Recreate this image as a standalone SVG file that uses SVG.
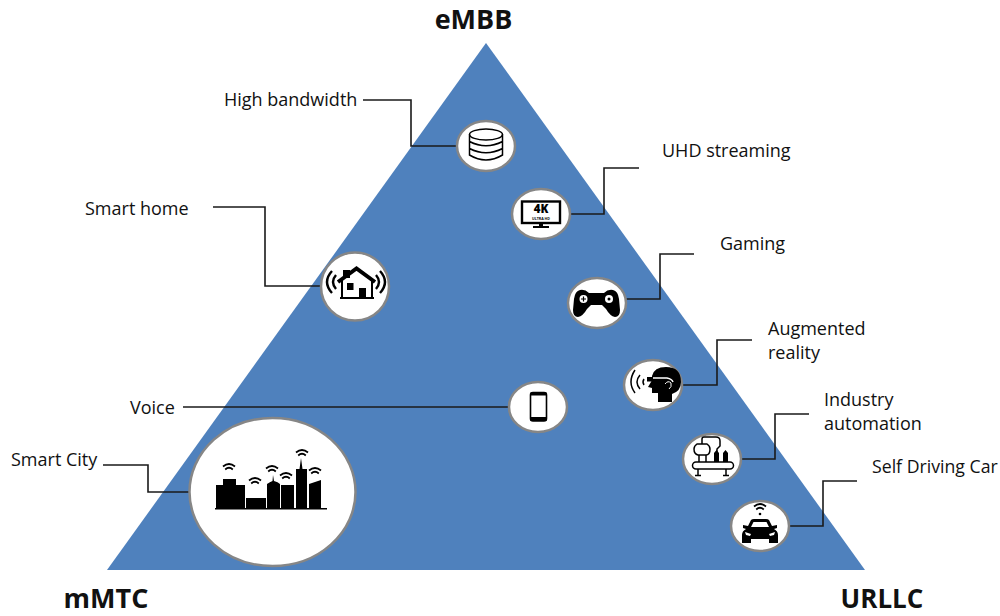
<svg xmlns="http://www.w3.org/2000/svg" width="1000" height="616" viewBox="0 0 1000 616">
<style>
text{font-family:"Open Sans","Noto Sans","Liberation Sans",sans-serif;fill:#111}
.l{font-size:18px}
.t{font-size:27px;font-weight:700}
.n{fill:#fff;stroke:#868686;stroke-width:2.5}
.c{fill:none;stroke:#1a1a1a;stroke-width:1.6}
.i{fill:#000}
.s{fill:none;stroke:#000;stroke-width:2}
.w{fill:#fff}
.wa{fill:none;stroke:#000;stroke-width:1.7}
</style>
<defs>
<g id="wifi"><path class="wa" d="M-6 -1.500Q0 -6.500 6 -1.500M-3.800 1.500Q0 -2 3.800 1.500"/></g>
</defs>
<polygon id="triangle" points="486,43 865,570 107,570" fill="#4f81bd"/>
<g id="connectors">
<path class="c" d="M363 100H411V146H458"/>
<path class="c" d="M639 168H604V214H570"/>
<path class="c" d="M694 254H660V299H626"/>
<path class="c" d="M752 340H717V385H682"/>
<path class="c" d="M809 414H775V459H741"/>
<path class="c" d="M857 481H823V526H789"/>
<path class="c" d="M213 207H265V286H321"/>
<path class="c" d="M183 407H509"/>
<path class="c" d="M103 465H148V492H190"/>
</g>
<g id="embb"><text class="t" x="473.500" y="28.500" text-anchor="middle">eMBB</text></g>
<g id="mmtc"><text class="t" x="106" y="608" text-anchor="middle">mMTC</text></g>
<g id="urllc"><text class="t" x="882" y="608" text-anchor="middle" style="font-size:26px">URLLC</text></g>
<g id="high-bandwidth">
<text class="l" x="224" y="106">High bandwidth</text>
<ellipse class="n" cx="486" cy="146" rx="29" ry="25"/>
<g fill="none" stroke="#000" stroke-width="1.500"><ellipse cx="486" cy="134.500" rx="16.500" ry="5.500"/><path d="M469.500 134.500V155Q486 165 502.500 155V134.500M469.500 141.500Q486 150 502.500 141.500M469.500 148.500Q486 157 502.500 148.500"/></g>
</g>
<g id="uhd-streaming">
<text class="l" x="662" y="157">UHD streaming</text>
<ellipse class="n" cx="541" cy="214" rx="29" ry="25"/>
<rect x="522" y="201.500" width="38" height="21.500" fill="none" stroke="#000" stroke-width="2.400"/>
<path class="i" d="M539 223h4v3h6v2h-16v-2h6z"/>
<text x="541" y="212.500" text-anchor="middle" style="font-size:11.500px;font-weight:800;fill:#000">4K</text>
<text x="541" y="219.800" text-anchor="middle" style="font-size:3.600px;font-weight:700;fill:#000">ULTRA HD</text>
</g>
<g id="gaming">
<text class="l" x="720" y="250">Gaming</text>
<ellipse class="n" cx="597" cy="303" rx="29" ry="25"/>
<path class="i" d="M580 290Q585 289 589 293H604Q608 289 613 290Q618 291 619 299L620 310Q620 317 615 317Q610 316 606 309L602 305H591L587 309Q583 316 578 317Q573 317 573 310L574 299Q575 291 580 290Z"/>
<circle cx="583.500" cy="299" r="4" class="w"/><path class="s" style="stroke-width:1.200" d="M581 299h5M583.500 296.500v5"/>
<circle cx="609" cy="299" r="4" class="w"/><circle cx="609" cy="299" r="1.500" class="i"/>
</g>
<g id="augmented-reality">
<text class="l" x="768" y="335">Augmented</text><text class="l" x="768" y="359">reality</text>
<ellipse class="n" cx="653" cy="385" rx="29" ry="25"/>
<path class="i" d="M652 376Q654 367 666 367Q681 367 681 382Q681 391 672 394V402H658V393H652V388L648 387L651 382L652 380Z"/>
<path d="M651 378H667Q672 379 673 382" fill="none" stroke="#fff" stroke-width="1.500"/>
<path d="M665 384q3-4 6-1q1 4-2 6" fill="none" stroke="#fff" stroke-width="1"/>
<rect x="647" y="377" width="6" height="4.500" class="i"/>
<path class="s" d="M635 370Q627 382 635 393M640 375Q634 382 640 389M644 379Q642 382 644 385" style="stroke-width:1.500"/>
</g>
<g id="industry-automation">
<text class="l" x="824" y="406">Industry</text><text class="l" x="824" y="430">automation</text>
<ellipse class="n" cx="712" cy="459" rx="29" ry="25"/>
<path class="s" style="stroke-width:1.500" d="M697 444H707Q710 446 710 449Q710 455 706 455H698Q694 454 694 449Q694 446 697 444ZM702 444V439Q702 437 704 437H716Q720 437 720 441V446L717 449V452"/>
<path class="s" style="stroke-width:1.500" d="M699 455V462M706 455V462"/>
<rect x="692.500" y="462" width="41" height="7" rx="3.500" fill="#fff" stroke="#000" stroke-width="1.500"/>
<path class="i" d="M714 453l2.500-3 2.500 3v9h-5zM723 453l2.500-3 2.500 3v9h-5z"/>
<path class="s" style="stroke-width:1.500" d="M698 469V475M726 469V475M695 475.500H701M723 475.500H729"/>
</g>
<g id="self-driving-car">
<text class="l" x="872" y="473" style="font-size:17.700px">Self Driving Car</text>
<ellipse class="n" cx="760" cy="526" rx="29" ry="25"/>
<path class="i" d="M748 526L751 520Q752 519 754 519H766Q768 519 769 520L772 526L777 525V528L774 529Q778 531 778 535V543H769V539H751V543H742V535Q742 531 746 529L743 528V525Z"/>
<path class="w" d="M751 527L753.500 522H766.500L769 527ZM745 532l6 2-1 2-4-1ZM775 532l-6 2 1 2 4-1Z"/>
<use href="#wifi" x="760" y="508"/>
<circle class="i" cx="760" cy="514" r="1.300"/>
</g>
<g id="smart-home">
<text class="l" x="85" y="215">Smart home</text>
<ellipse class="n" cx="355" cy="286.500" rx="34" ry="34"/>
<path class="i" d="M343 270h7v8h-7z"/>
<path d="M338 282L356.500 268.500L375 282" fill="none" stroke="#000" stroke-width="4"/>
<path class="s" d="M342 280V298H372V280"/>
<path class="i" d="M347 283h6.500v7h-6.500zM359 288h7v10h-7zM340 297h34v2h-34z"/>
<path class="s" style="stroke-width:2.400" d="M332 271Q322 282 332 293M336 275Q330 282 336 289M380 271Q390 282 380 293M376 275Q382 282 376 289"/>
</g>
<g id="voice">
<text class="l" x="130" y="414">Voice</text>
<ellipse class="n" cx="538" cy="407" rx="29" ry="25"/>
<rect x="530.500" y="392.500" width="16" height="28.500" rx="2.500" fill="none" stroke="#000" stroke-width="1.600"/>
<path class="i" d="M530.500 392.500h16v3h-16zM530.500 417h16v4h-16z"/>
</g>
<g id="smart-city">
<text class="l" x="11" y="466">Smart City</text>
<ellipse class="n" cx="272.500" cy="492" rx="83" ry="74"/>
<path class="i" d="M216 508V485H223V479H236V485H245V508ZM246 508V498H266V508ZM267 508V484Q270 482 272.500 481L273 475L274 481Q278 482 280 484V508ZM281 508V485H294V508ZM296 508V469H299.500L301 458L302.500 469H307V508ZM309 508V484L321 480V508Z"/>
<path class="s" d="M215 508.700H327" style="stroke-width:1.500"/>
<use href="#wifi" x="229" y="468"/><use href="#wifi" x="255" y="482"/><use href="#wifi" x="272" y="470"/><use href="#wifi" x="286" y="477"/><use href="#wifi" x="302" y="454"/><use href="#wifi" x="315" y="472"/>
</g>
</svg>
